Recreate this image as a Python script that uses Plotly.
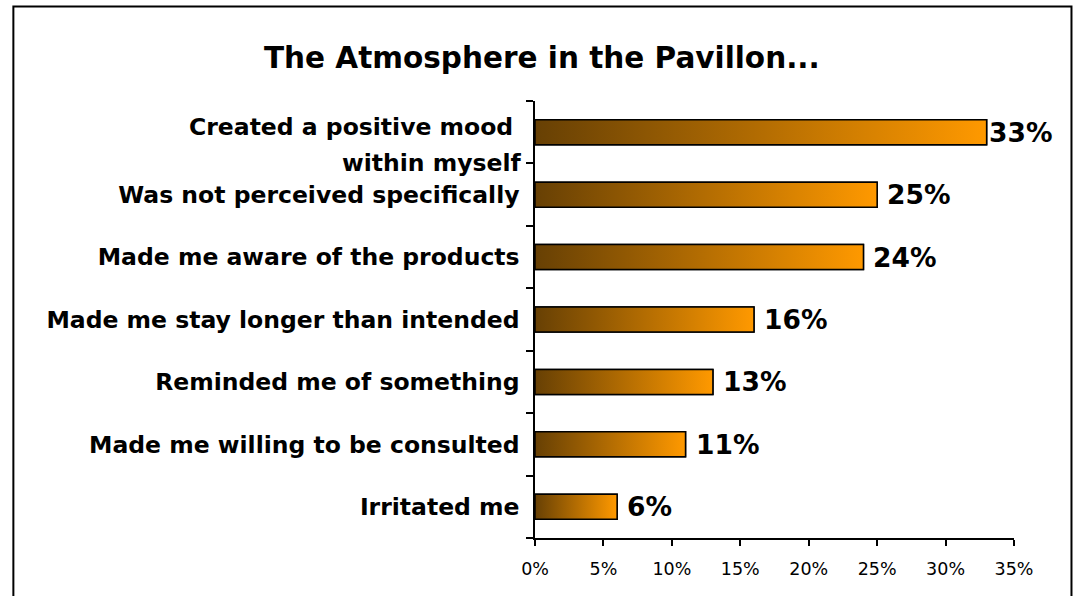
import plotly.graph_objects as go

# Survey answers, listed from the top row down
categories = [
    "Created a positive mood within myself",
    "Was not perceived specifically",
    "Made me aware of the products",
    "Made me stay longer than intended",
    "Reminded me of something",
    "Made me willing to be consulted",
    "Irritated me",
]
values = [33, 25, 24, 16, 13, 11, 6]
x_ticks = [0, 5, 10, 15, 20, 25, 30, 35]

FONT = "DejaVu Sans"
DARK = "#674004"
ORANGE = "#ff9900"
BAR_HALF = 0.2
CAT_SIZE = 23.5

positions = list(range(len(categories)))

# the first label wraps: its first line sits a little above the bar centre,
# the second line on the boundary between the first two rows
first_line = "Created a positive mood&nbsp;"
second_line = "within myself"
tick_text = [""] + categories[1:]

fig = go.Figure()

# gradient-filled bodies of the bars
for pos, val in zip(positions, values):
    fig.add_trace(go.Scatter(
        x=[0, val, val, 0, 0],
        y=[pos - BAR_HALF, pos - BAR_HALF, pos + BAR_HALF, pos + BAR_HALF, pos - BAR_HALF],
        mode="lines",
        fill="toself",
        fillgradient=dict(type="horizontal", colorscale=[[0, DARK], [1, ORANGE]]),
        line=dict(color="black", width=1.5),
        hoverinfo="skip",
        showlegend=False,
    ))

# bar trace carrying the values (outline only, body drawn above)
fig.add_trace(go.Bar(
    x=values,
    y=positions,
    orientation="h",
    width=2 * BAR_HALF,
    marker=dict(color="rgba(0,0,0,0)", line=dict(color="black", width=1.5)),
    hovertemplate="%{x}%<extra></extra>",
    showlegend=False,
))

# value labels to the right of each bar
top_val = max(values)
for pos, val in zip(positions, values):
    fig.add_annotation(
        x=val, y=pos, xref="x", yref="y",
        text=f"<b>{val}%</b>",
        showarrow=False,
        xanchor="left", yanchor="middle",
        xshift=0 if val == top_val else 8,
        font=dict(family=FONT, size=26.5, color="black"),
    )

# wrapped first category label
for text, ypos, yshift in [(first_line, positions[0], 5), (second_line, positions[0] + 0.5, 0)]:
    fig.add_annotation(
        x=0, y=ypos, xref="paper", yref="y",
        text=f"<b>{text}</b>",
        showarrow=False,
        xanchor="right", yanchor="middle",
        xshift=-12, yshift=yshift,
        font=dict(family=FONT, size=CAT_SIZE, color="black"),
    )

# outer chart border
fig.add_shape(
    type="rect", xref="paper", yref="paper",
    x0=-1.089, x1=1.12, y0=-0.2, y1=1.216,
    line=dict(color="black", width=2),
    fillcolor="rgba(0,0,0,0)",
    layer="below",
)

fig.update_layout(
    width=1073,
    height=596,
    margin=dict(l=535, r=59, t=101, b=58),
    paper_bgcolor="white",
    plot_bgcolor="white",
    font=dict(family=FONT, color="black"),
    title=dict(
        text="<b>The Atmosphere in the Pavillon...</b>",
        x=0.505, xref="container", xanchor="center",
        y=0.903, yref="container", yanchor="middle",
        font=dict(family=FONT, size=29.5, color="black"),
    ),
    xaxis=dict(
        range=[0, 35],
        tickvals=x_ticks,
        ticktext=[f"{t}%" for t in x_ticks],
        ticks="outside", ticklen=6, tickwidth=1.5, tickcolor="black",
        ticklabelstandoff=8,
        showline=True, linecolor="black", linewidth=1.5,
        showgrid=False, zeroline=False, automargin=False,
        tickfont=dict(family=FONT, size=17.5, color="black"),
        fixedrange=True,
    ),
    yaxis=dict(
        range=[len(categories) - 0.5, -0.5],
        tickvals=positions,
        ticktext=[f"<b>{t}</b>" for t in tick_text],
        ticks="", ticklabelstandoff=9,
        minor=dict(
            tickvals=[p - 0.5 for p in positions] + [positions[-1] + 0.5],
            ticks="outside", ticklen=7, tickwidth=1.5, tickcolor="black",
            showgrid=False,
        ),
        showline=True, linecolor="black", linewidth=1.5,
        showgrid=False, zeroline=False, automargin=False,
        tickfont=dict(family=FONT, size=CAT_SIZE, color="black"),
        fixedrange=True,
    ),
    bargap=0.6,
)

fig.write_html("out.html")
